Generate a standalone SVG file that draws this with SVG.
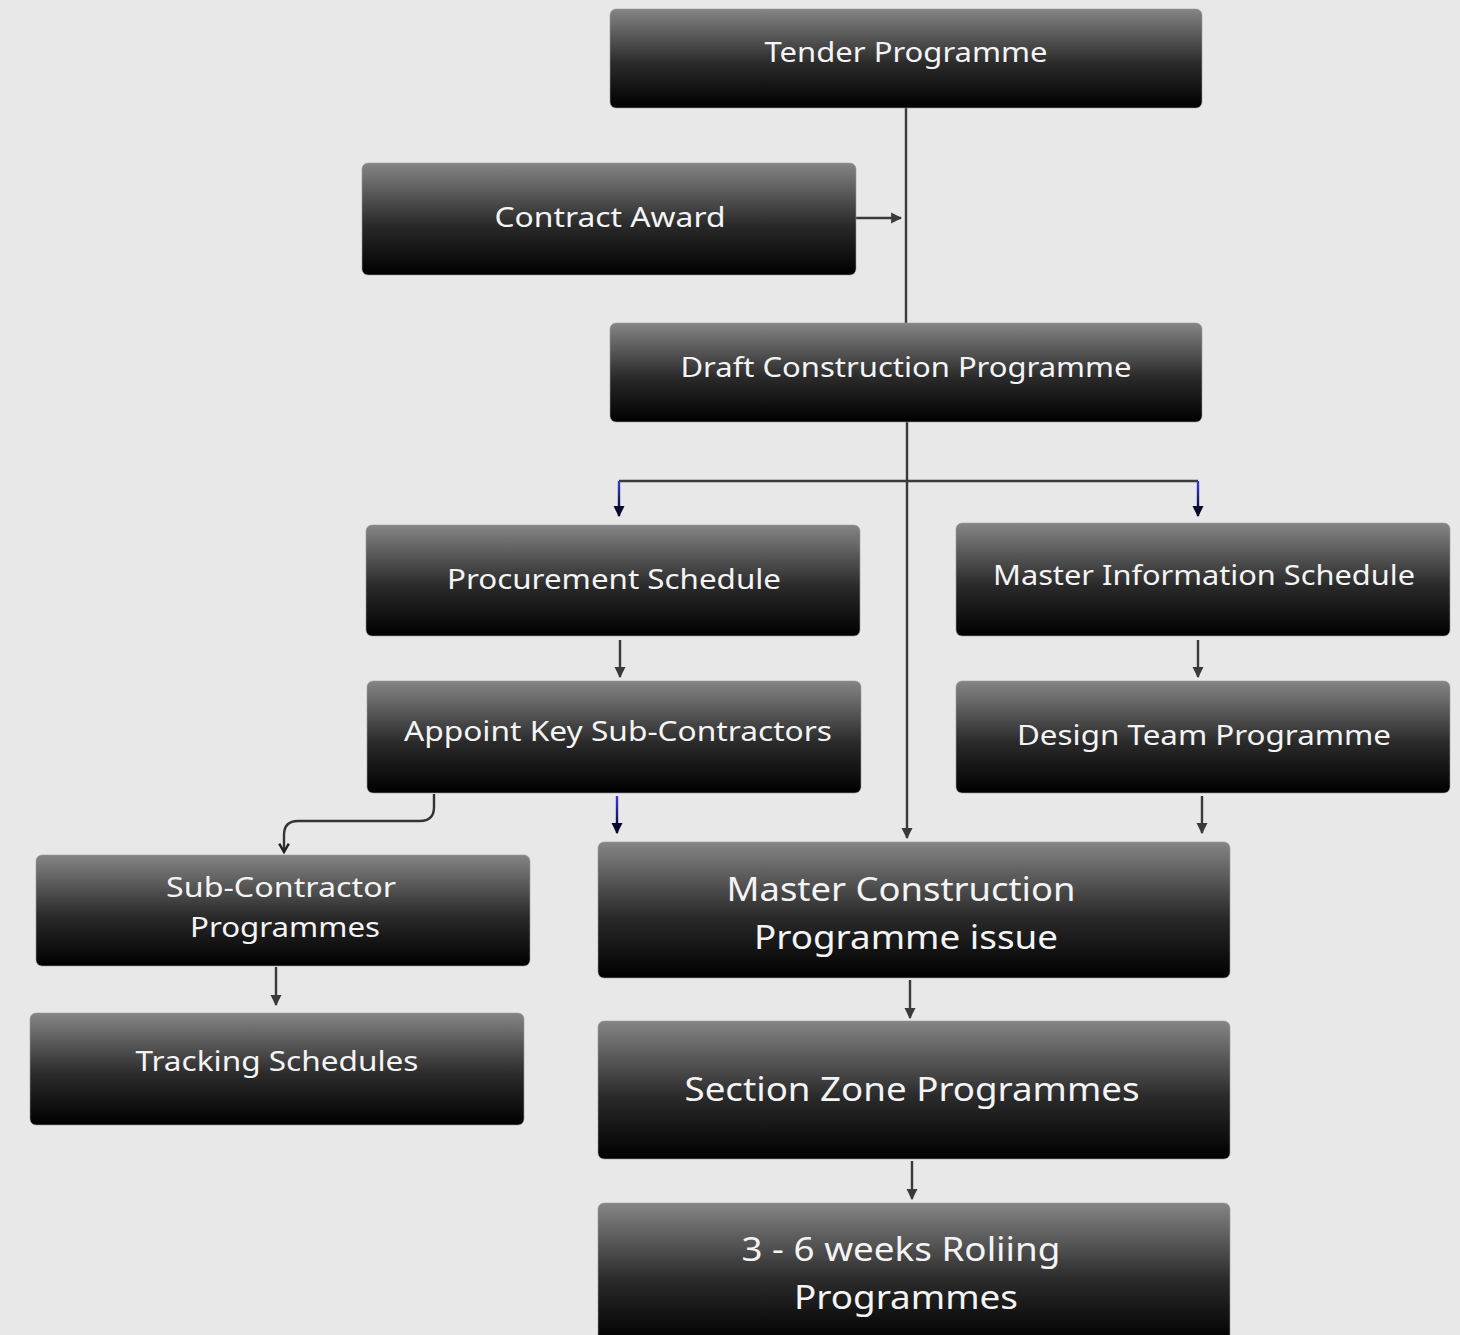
<svg xmlns="http://www.w3.org/2000/svg" width="1460" height="1335" viewBox="0 0 1460 1335">
<defs>
<linearGradient id="ng" x1="0" y1="0" x2="0" y2="1">
<stop offset="0" stop-color="#858585"/>
<stop offset="0.55" stop-color="#2a2a2a"/>
<stop offset="1" stop-color="#000000"/>
</linearGradient>
<linearGradient id="b1" gradientUnits="userSpaceOnUse" x1="0" y1="481" x2="0" y2="510">
<stop offset="0" stop-color="#3a3adf"/><stop offset="1" stop-color="#0a0a3a"/>
</linearGradient>
<linearGradient id="b2" gradientUnits="userSpaceOnUse" x1="0" y1="796" x2="0" y2="826">
<stop offset="0" stop-color="#3a3adf"/><stop offset="1" stop-color="#0a0a3a"/>
</linearGradient>
<marker id="ah" viewBox="0 0 10 10" refX="9" refY="5" markerWidth="11" markerHeight="13" orient="auto" markerUnits="userSpaceOnUse">
<path d="M0,0 L10,5 L0,10 z" fill="#3a3a3a"/>
</marker>
<marker id="ahb" viewBox="0 0 10 10" refX="9" refY="5" markerWidth="11" markerHeight="14" orient="auto" markerUnits="userSpaceOnUse">
<path d="M0,0 L10,5 L0,10 z" fill="#0a0a30"/>
</marker>
<marker id="ahs" viewBox="0 0 10 10" refX="8" refY="5" markerWidth="12" markerHeight="14" orient="auto" markerUnits="userSpaceOnUse">
<path d="M1,1 L8,5 L1,9" fill="none" stroke="#222" stroke-width="2"/>
</marker>
</defs>
<style>
.n rect{fill:url(#ng);stroke:#9a9a9a;stroke-width:0.6}
.n text{font-family:"Noto Sans","Open Sans",sans-serif;fill:#f4f4f4;text-anchor:middle}
.s{font-size:27px}
.l{font-size:33px}
.c path{fill:none;stroke:#3a3a3a;stroke-width:2.4}
</style>
<rect width="1460" height="1335" fill="#e8e8e8"/>
<g class="c" id="connectors">
<path d="M906,108 V323"/>
<path d="M856,218 H901" marker-end="url(#ah)"/>
<path d="M907,422 V838" marker-end="url(#ah)"/>
<path d="M619,481 H1198"/>
<path d="M619,481 V516" style="stroke:url(#b1)" marker-end="url(#ahb)"/>
<path d="M1198,481 V516" style="stroke:url(#b1)" marker-end="url(#ahb)"/>
<path d="M620,640 V677" marker-end="url(#ah)"/>
<path d="M1198,640 V677" marker-end="url(#ah)"/>
<path d="M434,794 V807 Q434,821 420,821 H298 Q284,821 284,835 V852" style="stroke:#333" marker-end="url(#ahs)"/>
<path d="M617,796 V833" style="stroke:url(#b2)" marker-end="url(#ahb)"/>
<path d="M1202,796 V833" marker-end="url(#ah)"/>
<path d="M276,967 V1005" marker-end="url(#ah)"/>
<path d="M910,980 V1018" marker-end="url(#ah)"/>
<path d="M912,1161 V1199" marker-end="url(#ah)"/>
</g>
<g class="n" id="tender"><rect x="610" y="9" width="592" height="99" rx="6"/><text class="s" x="906" y="62" textLength="283" lengthAdjust="spacingAndGlyphs">Tender Programme</text></g>
<g class="n" id="contract"><rect x="362" y="163" width="494" height="112" rx="6"/><text class="s" x="610" y="227" textLength="231" lengthAdjust="spacingAndGlyphs">Contract Award</text></g>
<g class="n" id="draft"><rect x="610" y="323" width="592" height="99" rx="6"/><text class="s" x="906" y="377" textLength="451" lengthAdjust="spacingAndGlyphs">Draft Construction Programme</text></g>
<g class="n" id="procurement"><rect x="366" y="525" width="494" height="111" rx="6"/><text class="s" x="614" y="589" textLength="334" lengthAdjust="spacingAndGlyphs">Procurement Schedule</text></g>
<g class="n" id="masterinfo"><rect x="956" y="523" width="494" height="113" rx="6"/><text class="s" x="1204" y="585" textLength="422" lengthAdjust="spacingAndGlyphs">Master Information Schedule</text></g>
<g class="n" id="appoint"><rect x="367" y="681" width="494" height="112" rx="6"/><text class="s" x="618" y="741" textLength="428" lengthAdjust="spacingAndGlyphs">Appoint Key Sub-Contractors</text></g>
<g class="n" id="designteam"><rect x="956" y="681" width="494" height="112" rx="6"/><text class="s" x="1204" y="745" textLength="374" lengthAdjust="spacingAndGlyphs">Design Team Programme</text></g>
<g class="n" id="subcon"><rect x="36" y="855" width="494" height="111" rx="6"/><text class="s" x="281" y="897" textLength="230" lengthAdjust="spacingAndGlyphs">Sub-Contractor</text><text class="s" x="285" y="937" textLength="190" lengthAdjust="spacingAndGlyphs">Programmes</text></g>
<g class="n" id="tracking"><rect x="30" y="1013" width="494" height="112" rx="6"/><text class="s" x="277" y="1071" textLength="283" lengthAdjust="spacingAndGlyphs">Tracking Schedules</text></g>
<g class="n" id="mastercon"><rect x="598" y="842" width="632" height="136" rx="6"/><text class="l" x="901" y="901" textLength="349" lengthAdjust="spacingAndGlyphs">Master Construction</text><text class="l" x="906" y="949" textLength="304" lengthAdjust="spacingAndGlyphs">Programme issue</text></g>
<g class="n" id="section"><rect x="598" y="1021" width="632" height="138" rx="6"/><text class="l" x="912" y="1101" textLength="455" lengthAdjust="spacingAndGlyphs">Section Zone Programmes</text></g>
<g class="n" id="rolling"><rect x="598" y="1203" width="632" height="140" rx="6"/><text class="l" x="901" y="1261" textLength="319" lengthAdjust="spacingAndGlyphs">3 - 6 weeks Roliing</text><text class="l" x="906" y="1309" textLength="224" lengthAdjust="spacingAndGlyphs">Programmes</text></g>
</svg>
